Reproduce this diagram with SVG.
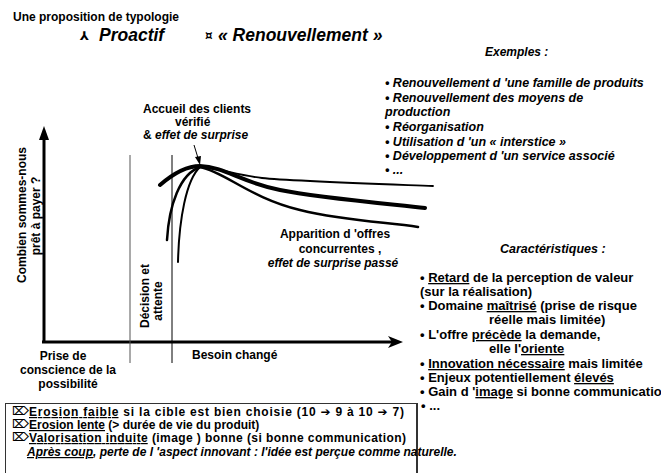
<svg xmlns="http://www.w3.org/2000/svg" width="661" height="473" viewBox="0 0 661 473">
  <defs>
    <style>
      text { font-family: "Liberation Sans", Arial, sans-serif; font-weight: bold; font-size: 12px; fill: #000; }
      .i { font-style: italic; }
      .big { font-size: 17.5px; }
      .list { font-size: 12.5px; }
      .car { font-size: 13px; }
      .u { text-decoration: underline; }
      .sym { font-family: "DejaVu Sans", sans-serif; font-style: normal; }
      .axis { stroke: #000; stroke-width: 3; fill: none; }
      .curve { stroke: #000; fill: none; stroke-linecap: round; }
    </style>
  </defs>

  <!-- header -->
  <g id="header">
    <text x="13" y="21">Une proposition de typologie</text>
    <text x="80" y="40" class="sym" font-size="12">⅄</text>
    <text x="99" y="41" class="big i">Proactif</text>
    <text x="205" y="40" class="sym" font-size="12">¤</text>
    <text x="218" y="41" class="big i">« Renouvellement »</text>
  </g>

  <!-- examples list -->
  <g id="exemples">
    <text x="485" y="56" class="i">Exemples :</text>
    <text x="385" y="87" class="i list">• Renouvellement d 'une famille de produits</text>
    <text x="385" y="102" class="i list">• Renouvellement des moyens de</text>
    <text x="385" y="116" class="i list">production</text>
    <text x="385" y="131" class="i list">• Réorganisation</text>
    <text x="385" y="146" class="i list">• Utilisation d 'un « interstice »</text>
    <text x="385" y="160" class="i list">• Développement d 'un service associé</text>
    <text x="385" y="174" class="i list">•  ...</text>
  </g>

  <!-- axes, phase separators and curves -->
  <g id="connectors">
    <line class="axis" x1="44" y1="343" x2="44" y2="138"/>
    <polygon points="44,126 39,140 49,140" fill="#000"/>
    <line class="axis" x1="42" y1="342" x2="392" y2="342"/>
    <polygon points="403,342 388,336 392,342 388,348" fill="#000"/>

    <line x1="130" y1="155" x2="130" y2="363" stroke="#555" stroke-width="1"/>
    <line x1="172" y1="155" x2="172" y2="363" stroke="#000" stroke-width="1"/>

    <!-- rising branches -->
    <path class="curve" stroke-width="2.5" d="M167,240 C169,205 180,174 200,167"/>
    <path class="curve" stroke-width="2" d="M178,262 C179,220 186,180 200,167"/>
    <!-- main curve -->
    <path class="curve" stroke-width="4" d="M160,185 C175,172 188,166 200,166 C225,167 240,182 280,190 S390,204 425,208"/>
    <!-- upper branch -->
    <path class="curve" stroke-width="1.8" d="M200,167 C220,168 235,175 262,178 S380,184 433,186"/>
    <!-- lower branch -->
    <path class="curve" stroke-width="2.5" d="M200,167 C225,172 250,198 300,210 S390,222 418,227"/>

    <!-- pointer to the peak -->
    <line x1="194" y1="145" x2="198" y2="158" stroke="#000" stroke-width="1"/>
    <polygon points="200,165 195,157 201,156" fill="#000"/>
  </g>

  <!-- axis and curve labels -->
  <g id="labels">
    <text x="143" y="113">Accueil des clients</text>
    <text x="175" y="126">vérifié</text>
    <text x="143" y="139"><tspan>&amp;</tspan><tspan class="i"> effet de surprise</tspan></text>

    <text transform="translate(26,215) rotate(-90)" text-anchor="middle" font-size="11.5">Combien sommes-nous</text>
    <text transform="translate(40,216) rotate(-90)" text-anchor="middle" font-size="11.5">prêt à payer ?</text>

    <text transform="translate(149,296) rotate(-90)" text-anchor="middle">Décision et</text>
    <text transform="translate(162,301) rotate(-90)" text-anchor="middle">attente</text>

    <text x="63" y="360" text-anchor="middle">Prise de</text>
    <text x="68" y="374" text-anchor="middle">conscience de la</text>
    <text x="68" y="388" text-anchor="middle">possibilité</text>
    <text x="192" y="359">Besoin changé</text>

    <text x="335" y="238" text-anchor="middle">Apparition d 'offres</text>
    <text x="340" y="253" text-anchor="middle">concurrentes ,</text>
    <text x="333" y="267" text-anchor="middle" class="i">effet de surprise passé</text>
  </g>

  <!-- characteristics list -->
  <g id="caracteristiques">
    <text x="500" y="253" class="i list">Caractéristiques :</text>
    <text x="420" y="282" class="car">• <tspan class="u">Retard</tspan> de la perception de valeur</text>
    <text x="420" y="296" class="car">(sur la réalisation)</text>
    <text x="420" y="310" class="car">• Domaine <tspan class="u">maîtrisé</tspan> (prise de risque</text>
    <text x="489" y="324" class="car">réelle mais limitée)</text>
    <text x="420" y="339" class="car">• L'offre <tspan class="u">précède</tspan> la demande,</text>
    <text x="489" y="353" class="car">elle l'<tspan class="u">oriente</tspan></text>
    <text x="420" y="368" class="car">• <tspan class="u">Innovation nécessaire</tspan> mais limitée</text>
    <text x="420" y="382" class="car">• Enjeux potentiellement <tspan class="u">élevés</tspan></text>
    <text x="420" y="396" class="car">• Gain d '<tspan class="u">image</tspan> si bonne communication</text>
    <text x="421" y="410" class="car">•  ...</text>
  </g>

  <!-- summary box -->
  <g id="bilan">
    <rect x="5.5" y="403.5" width="411" height="80" fill="none" stroke="#333" stroke-width="1"/>
    <line x1="417" y1="403" x2="417" y2="473" stroke="#333" stroke-width="2"/>
    <text x="12" y="415" class="sym" font-size="9" font-weight="normal">⌦</text>
    <text x="12" y="428" class="sym" font-size="9" font-weight="normal">⌦</text>
    <text x="12" y="441" class="sym" font-size="9" font-weight="normal">⌦</text>
    <text x="29" y="416" textLength="375" lengthAdjust="spacing"><tspan class="u">Erosion faible</tspan> si la cible est bien choisie (10 <tspan class="sym">➔</tspan> 9 à 10 <tspan class="sym">➔</tspan> 7)</text>
    <text x="29" y="429"><tspan class="u">Erosion lente</tspan> (&gt; durée de vie du produit)</text>
    <text x="29" y="442" textLength="377" lengthAdjust="spacing"><tspan class="u">Valorisation induite</tspan> (image ) bonne (si bonne communication)</text>
    <text x="27" y="456" class="i" font-size="9.3"><tspan class="u">Après coup</tspan>, perte de l 'aspect innovant : l'idée est perçue comme naturelle.</text>
  </g>
</svg>
